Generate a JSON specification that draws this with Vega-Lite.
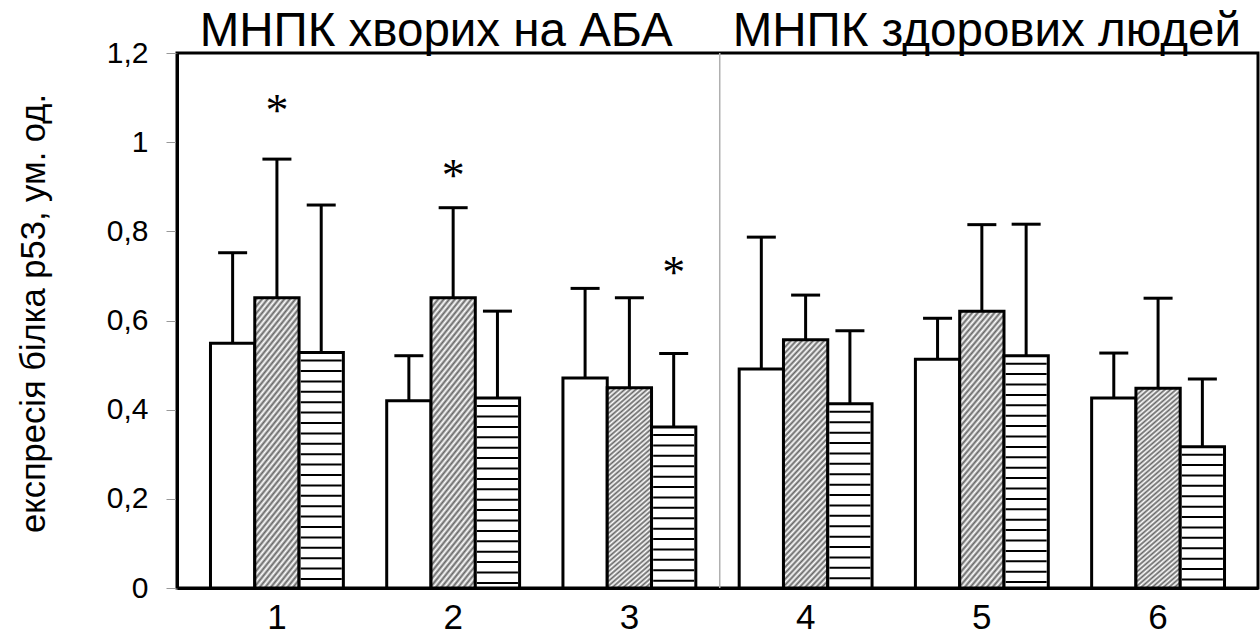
{
  "$schema": "https://vega.github.io/schema/vega-lite/v6.json",
  "width": 1081,
  "height": 535,
  "autosize": {"type": "none"},
  "padding": {"left": 177, "top": 53, "right": 2, "bottom": 49},
  "background": "white",
  "config": {
    "view": {"stroke": "black", "strokeWidth": 3},
    "font": "Liberation Sans",
    "axisX": {"labelAngle": 0, "labelFontSize": 35, "labelColor": "black", "labelFont": "Liberation Sans",
              "ticks": false, "domainColor": "black", "domainWidth": 3, "labelPadding": 12, "grid": false},
    "axisY": {"labelFontSize": 30, "labelColor": "black", "labelFont": "Liberation Sans",
              "tickColor": "#999", "tickSize": 11, "tickWidth": 1, "labelPadding": 18,
              "domainColor": "black", "domainWidth": 3, "grid": false,
              "titleFontSize": 34.5, "titleFontWeight": "normal", "titleColor": "black", "titleFont": "Liberation Sans",
              "titleX": -143, "titleY": 260, "titleBaseline": "middle", "titleAngle": -90, "titleAlign": "center"}
  },
  "datasets": {
    "bars": [
      {"group": "1", "series": "a", "value": 0.549, "upper": 0.752},
      {"group": "1", "series": "b", "value": 0.651, "upper": 0.962},
      {"group": "1", "series": "c", "value": 0.528, "upper": 0.859},
      {"group": "2", "series": "a", "value": 0.42, "upper": 0.521},
      {"group": "2", "series": "b", "value": 0.651, "upper": 0.853},
      {"group": "2", "series": "c", "value": 0.426, "upper": 0.621},
      {"group": "3", "series": "a", "value": 0.471, "upper": 0.672},
      {"group": "3", "series": "b", "value": 0.449, "upper": 0.651},
      {"group": "3", "series": "c", "value": 0.361, "upper": 0.526},
      {"group": "4", "series": "a", "value": 0.491, "upper": 0.787},
      {"group": "4", "series": "b", "value": 0.557, "upper": 0.657},
      {"group": "4", "series": "c", "value": 0.413, "upper": 0.577},
      {"group": "5", "series": "a", "value": 0.513, "upper": 0.605},
      {"group": "5", "series": "b", "value": 0.621, "upper": 0.815},
      {"group": "5", "series": "c", "value": 0.521, "upper": 0.816},
      {"group": "6", "series": "a", "value": 0.426, "upper": 0.527},
      {"group": "6", "series": "b", "value": 0.448, "upper": 0.65},
      {"group": "6", "series": "c", "value": 0.317, "upper": 0.469}
    ],
    "stars": [
      {"group": "1", "series": "b", "y": 1.088},
      {"group": "2", "series": "b", "y": 0.942},
      {"group": "3", "series": "c", "y": 0.724}
    ]
  },
  "layer": [
    {
      "data": {"name": "bars"},
      "transform": [{"filter": "datum.series == 'a'"}],
      "mark": {"type": "bar", "fill": "white", "stroke": "black", "strokeWidth": 3},
      "encoding": {
        "x": {"field": "group", "type": "nominal", "title": null,
              "scale": {"type": "band", "domain": ["1","2","3","4","5","6"], "paddingInner": 0.246, "paddingOuter": 0.19}},
        "xOffset": {"field": "series", "type": "nominal", "scale": {"domain": ["a","b","c"], "paddingInner": 0, "paddingOuter": 0}},
        "y": {"field": "value", "type": "quantitative", "title": "експресія білка р53, ум. од.",
              "scale": {"domain": [0, 1.2], "nice": false, "zero": true},
              "axis": {"values": [0, 0.2, 0.4, 0.6, 0.8, 1, 1.2],
                       "labelExpr": "replace(format(datum.value, '~g'), '.', ',')"}}
      }
    },
    {
      "data": {"values": [{"group": "3"}]},
      "mark": {"type": "rule", "color": "#b0b0b0", "strokeWidth": 1.5},
      "encoding": {
        "x": {"field": "group", "type": "nominal", "bandPosition": 1.18, "title": null}
      }
    },
    {
      "data": {"name": "bars"},
      "transform": [{"filter": "datum.series == 'b'"}],
      "mark": {"type": "bar", "stroke": "black", "strokeWidth": 3,
        "fill": {"gradient": "linear", "x1": 0, "y1": 0, "x2": 0.2207, "y2": 1.1564, "stops": [
          {"offset": 0.00, "color": "#fff"}, {"offset": 0.01, "color": "#666"},
          {"offset": 0.02, "color": "#fff"}, {"offset": 0.03, "color": "#666"},
          {"offset": 0.04, "color": "#fff"}, {"offset": 0.05, "color": "#666"},
          {"offset": 0.06, "color": "#fff"}, {"offset": 0.07, "color": "#666"},
          {"offset": 0.08, "color": "#fff"}, {"offset": 0.09, "color": "#666"},
          {"offset": 0.10, "color": "#fff"}, {"offset": 0.11, "color": "#666"},
          {"offset": 0.12, "color": "#fff"}, {"offset": 0.13, "color": "#666"},
          {"offset": 0.14, "color": "#fff"}, {"offset": 0.15, "color": "#666"},
          {"offset": 0.16, "color": "#fff"}, {"offset": 0.17, "color": "#666"},
          {"offset": 0.18, "color": "#fff"}, {"offset": 0.19, "color": "#666"},
          {"offset": 0.20, "color": "#fff"}, {"offset": 0.21, "color": "#666"},
          {"offset": 0.22, "color": "#fff"}, {"offset": 0.23, "color": "#666"},
          {"offset": 0.24, "color": "#fff"}, {"offset": 0.25, "color": "#666"},
          {"offset": 0.26, "color": "#fff"}, {"offset": 0.27, "color": "#666"},
          {"offset": 0.28, "color": "#fff"}, {"offset": 0.29, "color": "#666"},
          {"offset": 0.30, "color": "#fff"}, {"offset": 0.31, "color": "#666"},
          {"offset": 0.32, "color": "#fff"}, {"offset": 0.33, "color": "#666"},
          {"offset": 0.34, "color": "#fff"}, {"offset": 0.35, "color": "#666"},
          {"offset": 0.36, "color": "#fff"}, {"offset": 0.37, "color": "#666"},
          {"offset": 0.38, "color": "#fff"}, {"offset": 0.39, "color": "#666"},
          {"offset": 0.40, "color": "#fff"}, {"offset": 0.41, "color": "#666"},
          {"offset": 0.42, "color": "#fff"}, {"offset": 0.43, "color": "#666"},
          {"offset": 0.44, "color": "#fff"}, {"offset": 0.45, "color": "#666"},
          {"offset": 0.46, "color": "#fff"}, {"offset": 0.47, "color": "#666"},
          {"offset": 0.48, "color": "#fff"}, {"offset": 0.49, "color": "#666"},
          {"offset": 0.50, "color": "#fff"}, {"offset": 0.51, "color": "#666"},
          {"offset": 0.52, "color": "#fff"}, {"offset": 0.53, "color": "#666"},
          {"offset": 0.54, "color": "#fff"}, {"offset": 0.55, "color": "#666"},
          {"offset": 0.56, "color": "#fff"}, {"offset": 0.57, "color": "#666"},
          {"offset": 0.58, "color": "#fff"}, {"offset": 0.59, "color": "#666"},
          {"offset": 0.60, "color": "#fff"}, {"offset": 0.61, "color": "#666"},
          {"offset": 0.62, "color": "#fff"}, {"offset": 0.63, "color": "#666"},
          {"offset": 0.64, "color": "#fff"}, {"offset": 0.65, "color": "#666"},
          {"offset": 0.66, "color": "#fff"}, {"offset": 0.67, "color": "#666"},
          {"offset": 0.68, "color": "#fff"}, {"offset": 0.69, "color": "#666"},
          {"offset": 0.70, "color": "#fff"}, {"offset": 0.71, "color": "#666"},
          {"offset": 0.72, "color": "#fff"}, {"offset": 0.73, "color": "#666"},
          {"offset": 0.74, "color": "#fff"}, {"offset": 0.75, "color": "#666"},
          {"offset": 0.76, "color": "#fff"}, {"offset": 0.77, "color": "#666"},
          {"offset": 0.78, "color": "#fff"}, {"offset": 0.79, "color": "#666"},
          {"offset": 0.80, "color": "#fff"}, {"offset": 0.81, "color": "#666"},
          {"offset": 0.82, "color": "#fff"}, {"offset": 0.83, "color": "#666"},
          {"offset": 0.84, "color": "#fff"}, {"offset": 0.85, "color": "#666"},
          {"offset": 0.86, "color": "#fff"}, {"offset": 0.87, "color": "#666"},
          {"offset": 0.88, "color": "#fff"}, {"offset": 0.89, "color": "#666"},
          {"offset": 0.90, "color": "#fff"}, {"offset": 0.91, "color": "#666"},
          {"offset": 0.92, "color": "#fff"}, {"offset": 0.93, "color": "#666"},
          {"offset": 0.94, "color": "#fff"}, {"offset": 0.95, "color": "#666"},
          {"offset": 0.96, "color": "#fff"}, {"offset": 0.97, "color": "#666"},
          {"offset": 0.98, "color": "#fff"}, {"offset": 0.99, "color": "#666"},
          {"offset": 1.00, "color": "#fff"}
        ]}},
      "encoding": {
        "x": {"field": "group", "type": "nominal", "title": null},
        "xOffset": {"field": "series", "type": "nominal"},
        "y": {"field": "value", "type": "quantitative", "title": "експресія білка р53, ум. од."}
      }
    },
    {
      "data": {"name": "bars"},
      "transform": [{"filter": "datum.series == 'c'"}],
      "mark": {"type": "bar", "fill": "white", "stroke": "black", "strokeWidth": 3},
      "encoding": {
        "x": {"field": "group", "type": "nominal", "title": null},
        "xOffset": {"field": "series", "type": "nominal"},
        "y": {"field": "value", "type": "quantitative", "title": "експресія білка р53, ум. од."}
      }
    },
    {
      "data": {"name": "bars"},
      "transform": [{"filter": "datum.series == 'c'"}],
      "mark": {"type": "rule", "color": "black", "strokeWidth": 41, "strokeDash": [2, 8.4], "strokeDashOffset": 3.4},
      "encoding": {
        "x": {"field": "group", "type": "nominal", "title": null},
        "xOffset": {"field": "series", "type": "nominal"},
        "y": {"field": "value", "type": "quantitative", "title": "експресія білка р53, ум. од."},
        "y2": {"datum": 0}
      }
    },
    {
      "data": {"name": "bars"},
      "mark": {"type": "rule", "color": "black", "strokeWidth": 3},
      "encoding": {
        "x": {"field": "group", "type": "nominal", "title": null},
        "xOffset": {"field": "series", "type": "nominal"},
        "y": {"field": "value", "type": "quantitative", "title": "експресія білка р53, ум. од."},
        "y2": {"field": "upper"}
      }
    },
    {
      "data": {"name": "bars"},
      "mark": {"type": "tick", "color": "black", "orient": "horizontal", "size": 29, "thickness": 3, "opacity": 1},
      "encoding": {
        "x": {"field": "group", "type": "nominal", "title": null},
        "xOffset": {"field": "series", "type": "nominal"},
        "y": {"field": "upper", "type": "quantitative", "title": "експресія білка р53, ум. од."}
      }
    },
    {
      "data": {"name": "stars"},
      "mark": {"type": "text", "text": "*", "font": "Liberation Serif", "fontSize": 46, "color": "black", "baseline": "alphabetic", "align": "center", "dy": 23},
      "encoding": {
        "x": {"field": "group", "type": "nominal", "title": null},
        "xOffset": {"field": "series", "type": "nominal"},
        "y": {"field": "y", "type": "quantitative", "title": "експресія білка р53, ум. од."}
      }
    },
    {
      "data": {"values": [{"group": "2", "label": "МНПК хворих на АБА"}]},
      "mark": {"type": "text", "font": "Liberation Sans", "fontSize": 47.5, "color": "black", "baseline": "alphabetic", "align": "center", "dy": -7, "dx": -17},
      "encoding": {
        "x": {"field": "group", "type": "nominal", "title": null},
        "y": {"datum": 1.2, "type": "quantitative", "title": "експресія білка р53, ум. од."},
        "text": {"field": "label"}
      }
    },
    {
      "data": {"values": [{"group": "5", "label": "МНПК здорових людей"}]},
      "mark": {"type": "text", "font": "Liberation Sans", "fontSize": 47.5, "color": "black", "baseline": "alphabetic", "align": "center", "dy": -7, "dx": 5},
      "encoding": {
        "x": {"field": "group", "type": "nominal", "title": null},
        "y": {"datum": 1.2, "type": "quantitative", "title": "експресія білка р53, ум. од."},
        "text": {"field": "label"}
      }
    }
  ]
}
